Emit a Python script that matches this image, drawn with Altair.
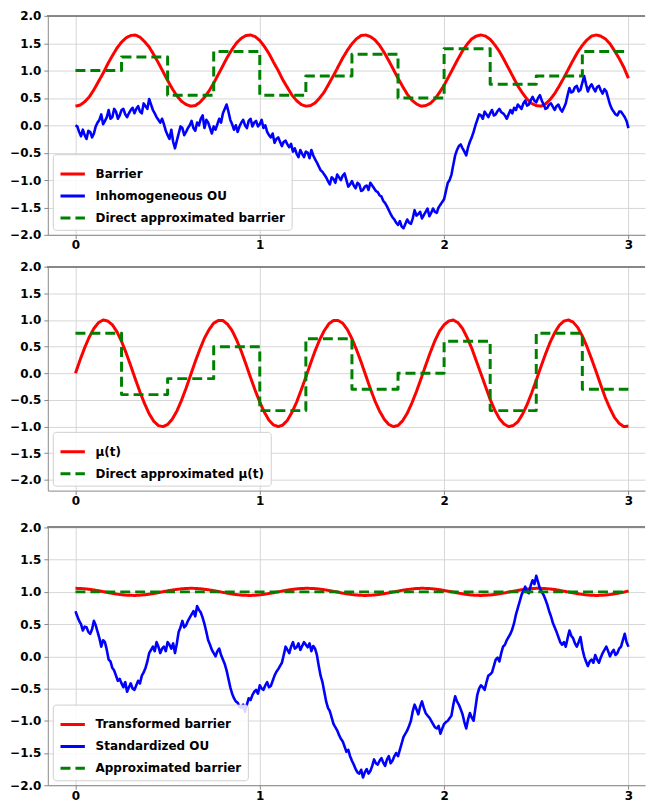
import altair as alt
import pandas as pd

# ---------------- data ----------------
CURVE_STEP = 0.025  # spacing of the smooth curves
PATH_STEP = 0.01    # spacing of the OU paths

BARRIER = [0.35,0.37,0.43,0.52,0.65,0.80,0.95,1.12,1.27,1.41,
           1.52,1.60,1.64,1.65,1.61,1.53,1.43,1.29,1.14,0.98,
           0.82,0.67,0.54,0.44,0.38,0.35,0.36,0.42,0.51,0.63,
           0.77,0.93,1.09,1.25,1.39,1.51,1.59,1.64,1.65,1.62,
           1.55,1.44,1.31,1.15,1.00,0.83,0.69,0.55,0.45,0.38,
           0.35,0.36,0.41,0.50,0.61,0.76,0.91,1.07,1.23,1.37,
           1.49,1.58,1.64,1.65,1.62,1.56,1.46,1.33,1.18,1.02,
           0.86,0.71,0.57,0.46,0.39,0.35,0.36,0.40,0.48,0.60,
           0.73,0.89,1.05,1.21,1.36,1.48,1.58,1.63,1.65,1.63,
           1.57,1.47,1.35,1.20,1.04,0.88,0.72,0.59,0.48,0.40,
           0.36,0.35,0.39,0.47,0.58,0.72,0.87,1.03,1.19,1.34,
           1.46,1.56,1.63,1.65,1.63,1.58,1.49,1.36,1.22,1.06,
           0.86]

MU = [0.00,0.25,0.48,0.68,0.84,0.95,1.00,0.98,0.91,0.78,
      0.60,0.38,0.14,-0.11,-0.35,-0.57,-0.76,-0.90,-0.98,-1.00,
      -0.96,-0.86,-0.71,-0.51,-0.28,-0.03,0.22,0.45,0.66,0.82,
      0.94,0.99,0.99,0.92,0.80,0.62,0.41,0.17,-0.08,-0.32,
      -0.54,-0.73,-0.88,-0.97,-1.00,-0.97,-0.88,-0.73,-0.54,-0.31,
      -0.07,0.18,0.42,0.63,0.80,0.93,0.99,0.99,0.94,0.82,
      0.65,0.44,0.21,-0.04,-0.29,-0.52,-0.71,-0.86,-0.96,-1.00,
      -0.98,-0.89,-0.75,-0.56,-0.34,-0.10,0.15,0.39,0.61,0.79,
      0.91,0.98,1.00,0.95,0.84,0.67,0.47,0.23,-0.01,-0.25,
      -0.49,-0.69,-0.85,-0.95,-1.00,-0.98,-0.91,-0.77,-0.59,-0.37,
      -0.13,0.12,0.36,0.58,0.76,0.90,0.98,1.00,0.96,0.86,
      0.70,0.50,0.27,0.03,-0.22,-0.46,-0.66,-0.83,-0.94,-1.00,
      -0.99]

TRANSFORMED = [1.055,1.053,1.048,1.040,1.030,1.017,1.004,0.990,0.977,0.965,
               0.956,0.949,0.946,0.945,0.949,0.955,0.964,0.975,0.988,1.002,
               1.016,1.028,1.039,1.047,1.053,1.055,1.054,1.049,1.041,1.031,
               1.019,1.006,0.992,0.979,0.967,0.957,0.950,0.946,0.945,0.948,
               0.954,0.963,0.974,0.987,1.000,1.014,1.027,1.038,1.046,1.052,
               1.055,1.054,1.050,1.043,1.033,1.021,1.008,0.994,0.980,0.968,
               0.958,0.951,0.946,0.945,0.947,0.953,0.961,0.972,0.985,0.998,
               1.012,1.025,1.036,1.045,1.052,1.055,1.054,1.051,1.044,1.034,
               1.022,1.009,0.996,0.982,0.970,0.959,0.951,0.947,0.945,0.947,
               0.952,0.960,0.971,0.983,0.997,1.010,1.023,1.035,1.044,1.051,
               1.055,1.055,1.051,1.045,1.036,1.024,1.011,0.997,0.984,0.971,
               0.961,0.952,0.947,0.945,0.946,0.951,0.959,0.969,0.982,0.995,
               1.015]

OU = [0.00,-0.02,-0.12,-0.20,-0.08,-0.18,-0.25,-0.10,-0.12,-0.22,
      -0.15,-0.02,0.05,0.10,0.20,0.02,0.08,0.15,0.28,0.12,
      0.15,0.30,0.25,0.12,0.18,0.28,0.30,0.20,0.15,0.22,
      0.28,0.32,0.22,0.30,0.35,0.25,0.22,0.40,0.35,0.30,
      0.48,0.38,0.28,0.22,0.15,0.10,0.05,0.12,0.02,-0.10,
      -0.18,-0.25,-0.08,-0.30,-0.42,-0.28,-0.15,-0.02,-0.05,-0.18,
      -0.12,-0.05,0.00,0.08,-0.05,-0.10,0.05,0.00,0.12,0.18,
      -0.05,0.10,0.05,-0.05,-0.15,-0.02,-0.08,0.02,0.12,0.05,
      0.22,0.30,0.38,0.25,0.10,0.02,-0.08,0.00,-0.12,-0.02,
      0.05,0.10,0.00,-0.05,0.08,0.12,-0.02,0.05,0.08,-0.02,
      0.02,0.10,-0.05,0.00,-0.12,-0.18,-0.22,-0.15,-0.32,-0.25,
      -0.22,-0.30,-0.38,-0.30,-0.28,-0.35,-0.40,-0.34,-0.48,-0.42,
      -0.52,-0.58,-0.45,-0.52,-0.58,-0.48,-0.50,-0.60,-0.45,-0.55,
      -0.62,-0.68,-0.75,-0.82,-0.85,-0.90,-0.95,-1.02,-1.08,-0.95,
      -0.98,-1.05,-0.90,-0.95,-1.00,-0.92,-0.88,-1.00,-1.12,-1.08,
      -1.02,-1.10,-1.15,-1.05,-1.08,-1.20,-1.18,-1.12,-1.10,-1.18,
      -1.05,-1.10,-1.15,-1.20,-1.22,-1.28,-1.30,-1.38,-1.42,-1.48,
      -1.55,-1.62,-1.68,-1.72,-1.78,-1.82,-1.75,-1.85,-1.88,-1.80,
      -1.72,-1.78,-1.80,-1.70,-1.55,-1.65,-1.62,-1.58,-1.70,-1.64,
      -1.58,-1.52,-1.66,-1.60,-1.52,-1.58,-1.60,-1.50,-1.45,-1.40,
      -1.35,-1.20,-1.05,-1.00,-0.90,-0.72,-0.55,-0.45,-0.38,-0.35,
      -0.42,-0.48,-0.55,-0.40,-0.30,-0.22,-0.12,0.00,0.10,0.20,
      0.18,0.12,0.25,0.20,0.15,0.22,0.28,0.18,0.20,0.26,
      0.30,0.24,0.22,0.18,0.12,0.20,0.28,0.22,0.32,0.28,
      0.38,0.34,0.30,0.40,0.45,0.36,0.38,0.46,0.52,0.45,
      0.42,0.50,0.55,0.45,0.38,0.30,0.32,0.38,0.40,0.34,
      0.28,0.35,0.38,0.30,0.25,0.32,0.40,0.55,0.68,0.60,
      0.62,0.70,0.72,0.62,0.65,0.78,0.90,0.75,0.62,0.70,
      0.75,0.68,0.62,0.70,0.72,0.64,0.58,0.66,0.62,0.50,
      0.38,0.30,0.25,0.20,0.18,0.25,0.25,0.20,0.15,0.08,
      -0.05]

STD_OU = [0.70,0.62,0.55,0.50,0.40,0.46,0.45,0.38,0.35,0.42,
          0.55,0.48,0.38,0.28,0.15,0.25,0.22,0.10,-0.05,-0.08,
          -0.18,-0.22,-0.30,-0.38,-0.35,-0.42,-0.48,-0.40,-0.55,-0.48,
          -0.42,-0.50,-0.52,-0.45,-0.38,-0.42,-0.30,-0.25,-0.18,-0.08,
          0.05,0.10,0.15,0.08,0.22,0.15,0.05,0.12,0.15,0.08,
          0.22,0.18,0.12,0.20,0.05,0.20,0.38,0.45,0.55,0.45,
          0.48,0.55,0.60,0.65,0.70,0.62,0.78,0.72,0.68,0.60,
          0.50,0.38,0.25,0.18,0.10,0.05,0.00,0.08,0.12,0.02,
          -0.05,-0.12,-0.22,-0.35,-0.48,-0.58,-0.65,-0.70,-0.72,-0.78,
          -0.80,-0.75,-0.86,-0.75,-0.65,-0.68,-0.60,-0.55,-0.52,-0.58,
          -0.45,-0.50,-0.52,-0.45,-0.40,-0.48,-0.46,-0.38,-0.30,-0.24,
          -0.20,-0.15,-0.10,0.02,0.15,0.10,0.05,0.15,0.22,0.12,
          0.14,0.20,0.10,0.16,0.22,0.18,0.14,0.20,0.08,0.16,
          0.12,0.02,-0.15,-0.30,-0.40,-0.55,-0.70,-0.80,-0.85,-0.95,
          -1.05,-1.10,-1.15,-1.22,-1.28,-1.32,-1.40,-1.48,-1.45,-1.55,
          -1.62,-1.68,-1.75,-1.80,-1.82,-1.76,-1.88,-1.80,-1.75,-1.82,
          -1.78,-1.70,-1.60,-1.66,-1.68,-1.62,-1.58,-1.65,-1.70,-1.60,
          -1.55,-1.66,-1.62,-1.55,-1.50,-1.55,-1.45,-1.35,-1.25,-1.20,
          -1.15,-1.08,-1.00,-0.85,-0.75,-0.82,-0.90,-0.78,-0.70,-0.80,
          -0.88,-0.92,-0.95,-1.00,-1.05,-1.10,-1.12,-1.08,-1.20,-1.12,
          -1.05,-1.02,-1.00,-0.96,-0.92,-0.75,-0.62,-0.70,-0.75,-0.82,
          -0.90,-1.02,-1.12,-0.98,-0.88,-0.95,-1.00,-0.80,-0.60,-0.50,
          -0.45,-0.48,-0.52,-0.40,-0.30,-0.28,-0.25,-0.15,-0.05,-0.02,
          -0.08,0.05,0.15,0.18,0.25,0.30,0.35,0.42,0.52,0.65,
          0.75,0.85,0.95,1.02,1.08,1.00,0.98,1.10,1.18,1.12,
          1.25,1.15,1.05,1.00,0.95,0.88,0.80,0.70,0.62,0.52,
          0.45,0.38,0.30,0.22,0.18,0.22,0.15,0.28,0.40,0.32,
          0.28,0.20,0.15,0.22,0.30,0.12,0.00,-0.08,-0.15,-0.08,
          -0.05,-0.10,0.02,-0.05,-0.10,-0.02,0.05,0.10,0.15,0.08,
          0.00,0.06,0.10,0.02,0.05,0.12,0.15,0.25,0.35,0.22,
          0.15]

STEP_KNOTS = [0.0,0.25,0.5,0.75,1.0,1.25,1.5,1.75,2.0,2.25,2.5,2.75,3.0]
DIRECT_BARRIER = [1.00,1.25,0.55,1.35,0.55,0.90,1.30,0.50,1.40,0.75,0.90,1.35,1.35]
DIRECT_MU = [0.75,-0.40,-0.10,0.50,-0.70,0.65,-0.30,0.00,0.60,-0.70,0.75,-0.30,-0.30]
APPROX_KNOTS = [0.0,3.0]
APPROX_BARRIER = [1.0,1.0]

Y_TICKS = [-2.0,-1.5,-1.0,-0.5,0.0,0.5,1.0,1.5,2.0]
X_TICKS = [0,1,2,3]

# ---------------- helpers ----------------
W = 600
X_DOMAIN = [-0.15, 3.09]
RED, BLUE, GREEN = "#ff0000", "#0000ff", "#008000"
FONT = "DejaVu Sans"


def frame(ts, vs, name):
    return pd.DataFrame({"t": ts, "v": vs, "series": name})


def grid(n, step):
    return [round(i * step, 4) for i in range(n)]


def indep(c):
    return c.resolve_scale(color="independent", strokeDash="independent").resolve_legend(
        color="independent", strokeDash="independent")


def panel(entries, ydomain, height):
    names = [e["name"] for e in entries]
    colors = [e["color"] for e in entries]
    dashes = [e["dash"] for e in entries]
    legend = alt.Legend(
        title=None, orient="bottom-left", offset=5,
        labelFont=FONT, labelFontWeight="bold", labelFontSize=12, labelColor="black",
        labelLimit=400,
        symbolType="stroke", symbolSize=600, symbolStrokeWidth=3,
        labelOffset=9, rowPadding=2, padding=6,
        fillColor="rgba(255,255,255,0.85)", strokeColor="#d0d0d0", cornerRadius=3,
    )
    color = alt.Color("series:N", scale=alt.Scale(domain=names, range=colors), sort=names, legend=legend)
    dash = alt.StrokeDash("series:N", scale=alt.Scale(domain=names, range=dashes), sort=names, legend=legend)
    xenc = alt.X("t:Q", scale=alt.Scale(domain=X_DOMAIN, nice=False, zero=False),
                 axis=alt.Axis(values=X_TICKS, format="d", title=None, labelPadding=1))
    yenc = alt.Y("v:Q", scale=alt.Scale(domain=ydomain, nice=False, zero=False),
                 axis=alt.Axis(values=Y_TICKS, format=".1f", title=None))
    layers = []
    for e in entries:
        mk = alt.Chart(e["df"]).mark_line(
            strokeWidth=e["width"], interpolate=e.get("interp", "linear"),
            strokeJoin="round",
        ).encode(x=xenc, y=yenc, color=color, strokeDash=dash, order=alt.Order("t:Q"))
        layers.append(mk)
    top = alt.Chart(entries[0]["df"]).mark_rule(color="#888888", strokeWidth=1).encode(
        x=alt.value(0), x2=alt.value(W), y=alt.value(0))
    layers.append(top)
    return alt.layer(*layers).properties(width=W, height=height)


p1 = panel([
    {"name": "Barrier", "df": frame(grid(len(BARRIER), CURVE_STEP), BARRIER, "Barrier"),
     "color": RED, "dash": [1, 0], "width": 3},
    {"name": "Inhomogeneous OU", "df": frame(grid(len(OU), PATH_STEP), OU, "Inhomogeneous OU"),
     "color": BLUE, "dash": [1, 0], "width": 2.6},
    {"name": "Direct approximated barrier", "df": frame(STEP_KNOTS, DIRECT_BARRIER, "Direct approximated barrier"),
     "color": GREEN, "dash": [10, 5], "width": 3, "interp": "step-after"},
], [-2.0, 2.0], 220)

p2 = panel([
    {"name": "μ(t)", "df": frame(grid(len(MU), CURVE_STEP), MU, "μ(t)"), "color": RED, "dash": [1, 0], "width": 3},
    {"name": "Direct approximated μ(t)", "df": frame(STEP_KNOTS, DIRECT_MU, "Direct approximated μ(t)"),
     "color": GREEN, "dash": [10, 5], "width": 3, "interp": "step-after"},
], [-2.2, 2.0], 225)

p3 = panel([
    {"name": "Transformed barrier", "df": frame(grid(len(TRANSFORMED), CURVE_STEP), TRANSFORMED, "Transformed barrier"),
     "color": RED, "dash": [1, 0], "width": 3},
    {"name": "Standardized OU", "df": frame(grid(len(STD_OU), PATH_STEP), STD_OU, "Standardized OU"),
     "color": BLUE, "dash": [1, 0], "width": 2.6},
    {"name": "Approximated barrier", "df": frame(APPROX_KNOTS, APPROX_BARRIER, "Approximated barrier"),
     "color": GREEN, "dash": [10, 5], "width": 3},
], [-2.0, 2.0], 259)

top_two = indep(alt.vconcat(p1, p2, spacing=10))
chart = indep(alt.vconcat(top_two, p3, spacing=15)).properties(
    padding={"left": 0, "top": 0, "right": 0, "bottom": 0}
).configure_view(stroke=None).configure_axis(
    labelFont=FONT, labelFontWeight="bold", labelFontSize=12, labelColor="black",
    gridColor="#d6d6d6", gridWidth=1, domainColor="#888888", tickColor="#888888",
    tickSize=4, labelPadding=3,
).configure_axisY(minExtent=40, labelPadding=3)

chart.save("out.html", embed_options={"renderer": "svg", "actions": False})
